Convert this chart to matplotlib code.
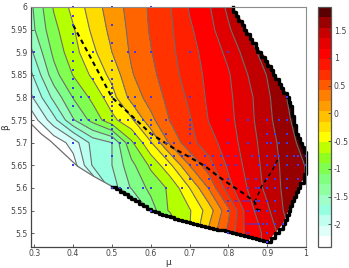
import numpy as np
import matplotlib
matplotlib.use('Agg')
import matplotlib.pyplot as plt
from matplotlib.colors import ListedColormap, Normalize
from matplotlib.cm import ScalarMappable
from matplotlib.patches import Polygon

# grid of values
mu = [0.29, 0.35, 0.40, 0.45, 0.50, 0.55, 0.60, 0.65, 0.70, 0.75, 0.80, 0.85, 0.90, 0.95, 1.00]
beta = [6.00, 5.95, 5.90, 5.85, 5.80, 5.75, 5.70, 5.65, 5.60, 5.55, 5.50, 5.45]
z = [
    [-0.95, -0.48, -0.24, 0.00, 0.20, 0.37, 0.53, 0.69, 0.92, 1.08, 1.35, 1.52, 1.72, 1.90, 2.10],
    [-0.98, -0.56, -0.32, -0.06, 0.16, 0.35, 0.52, 0.67, 0.87, 1.03, 1.27, 1.51, 1.75, 2.00, 2.20],
    [-1.15, -0.65, -0.37, -0.15, 0.10, 0.33, 0.49, 0.65, 0.83, 0.98, 1.15, 1.40, 1.61, 1.85, 2.10],
    [-1.35, -0.78, -0.49, -0.26, -0.04, 0.28, 0.45, 0.61, 0.80, 0.95, 1.08, 1.30, 1.51, 1.75, 2.00],
    [-1.55, -1.04, -0.69, -0.45, -0.18, 0.17, 0.39, 0.56, 0.74, 0.94, 1.06, 1.24, 1.46, 1.70, 1.90],
    [-1.85, -1.37, -0.92, -0.63, -0.36, -0.14, 0.24, 0.51, 0.68, 0.91, 1.04, 1.23, 1.44, 1.66, 1.85],
    [-2.20, -1.85, -1.61, -1.23, -1.10, -0.54, -0.12, 0.34, 0.63, 0.82, 1.00, 1.20, 1.40, 1.60, 1.80],
    [-2.50, -2.20, -1.80, -1.28, -1.10, -0.76, -0.46, -0.14, 0.30, 0.62, 0.94, 1.16, 1.38, 1.57, 1.71],
    [-2.90, -2.50, -2.20, -1.80, -1.20, -0.88, -0.64, -0.46, -0.10, 0.32, 0.83, 1.11, 1.36, 1.56, 1.70],
    [-3.40, -3.20, -2.90, -2.50, -2.00, -1.50, -0.80, -0.46, -0.32, 0.00, 0.45, 1.02, 1.26, 1.55, 1.70],
    [-3.60, -3.50, -3.20, -3.00, -2.60, -2.20, -1.60, -0.90, -0.30, 0.15, 0.55, 0.98, 1.15, 1.45, 1.60],
    [-3.60, -3.50, -3.20, -3.00, -2.60, -2.20, -1.60, -0.90, -0.30, 0.15, 0.55, 0.98, 1.15, 1.45, 1.60],
]

levels = [-1.7, -1.5, -1.3, -1.1, -0.9, -0.7, -0.5, -0.3, -0.1, 0.1, 0.3, 0.5, 0.7, 0.9, 1.1, 1.3, 1.5, 1.7]
fill_colors = ['#ffffff', '#d8fffa', '#b8fff0', '#98ffe0', '#96ffc0', '#80ff88', '#80ff50', '#b4ff00',
               '#ffff00', '#ffdc00', '#ff9600', '#ff6400', '#ff3200', '#ff2000', '#ff0000', '#e00000',
               '#c00000', '#960000', '#5a0000']

# edge of the domain: thin grey part, then the jagged black part from the left end round to the top
edge_thin_mu = [0.29, 0.318, 0.341, 0.411, 0.452, 0.503]
edge_thin_beta = [5.743, 5.719, 5.704, 5.648, 5.626, 5.602]
edge_mu = [0.50, 0.51, 0.52, 0.53, 0.54, 0.55, 0.56, 0.57, 0.58, 0.59, 0.60, 0.61, 0.62, 0.63, 0.64, 0.65, 0.66,
           0.67, 0.68, 0.69, 0.70, 0.71, 0.72, 0.73, 0.74, 0.75, 0.76, 0.77, 0.78, 0.79, 0.80, 0.81, 0.82, 0.83,
           0.84, 0.85, 0.86, 0.87, 0.88, 0.89, 0.90, 0.91, 0.92, 0.93, 0.94, 0.945, 0.95, 0.955, 0.96, 0.965,
           0.97, 0.975, 0.98, 0.985, 0.995, 0.995, 1.0, 1.0, 1.0, 1.0, 1.0, 0.995, 0.99, 0.985, 0.98, 0.975,
           0.975, 0.97, 0.97, 0.965, 0.965, 0.96, 0.955, 0.95, 0.94, 0.935, 0.93, 0.92, 0.915, 0.91, 0.90,
           0.895, 0.885, 0.875, 0.87, 0.86, 0.855, 0.845, 0.84, 0.835, 0.825, 0.82, 0.812]
edge_beta = [5.602, 5.598, 5.592, 5.586, 5.58, 5.575, 5.57, 5.565, 5.56, 5.553, 5.548, 5.546, 5.543, 5.54, 5.538,
             5.535, 5.532, 5.528, 5.526, 5.524, 5.522, 5.52, 5.518, 5.516, 5.514, 5.512, 5.51, 5.508, 5.506,
             5.504, 5.502, 5.50, 5.498, 5.496, 5.494, 5.492, 5.49, 5.486, 5.484, 5.482, 5.48, 5.49, 5.50, 5.51,
             5.52, 5.53, 5.54, 5.55, 5.56, 5.57, 5.58, 5.59, 5.60, 5.61, 5.62, 5.63, 5.64, 5.65, 5.66, 5.67,
             5.68, 5.69, 5.70, 5.71, 5.72, 5.73, 5.74, 5.75, 5.76, 5.77, 5.78, 5.79, 5.80, 5.81, 5.82, 5.83,
             5.84, 5.85, 5.86, 5.87, 5.88, 5.89, 5.90, 5.91, 5.92, 5.93, 5.94, 5.95, 5.96, 5.97, 5.98, 5.99, 6.0]

# sample points, one list of mu per beta
dot_rows = [
    (6.00, [0.40, 0.50, 0.60]),
    (5.98, [0.40]),
    (5.96, [0.40, 0.50]),
    (5.94, [0.40]),
    (5.92, [0.40, 0.50]),
    (5.90, [0.30, 0.40, 0.45, 0.54, 0.56, 0.60, 0.70, 0.80]),
    (5.88, [0.40, 0.50]),
    (5.86, [0.40, 0.50]),
    (5.84, [0.40, 0.45, 0.50]),
    (5.83, [0.50]),
    (5.82, [0.40, 0.50]),
    (5.81, [0.50]),
    (5.80, [0.30, 0.40, 0.42, 0.44, 0.48, 0.50, 0.54, 0.56, 0.60, 0.70, 0.95]),
    (5.79, [0.50]),
    (5.78, [0.40, 0.50, 0.56]),
    (5.77, [0.50]),
    (5.76, [0.50]),
    (5.75, [0.40, 0.42, 0.44, 0.46, 0.48, 0.50, 0.52, 0.54, 0.56, 0.58, 0.60, 0.64, 0.70, 0.80, 0.85, 0.90, 0.93, 0.95]),
    (5.74, [0.50, 0.60, 0.70]),
    (5.73, [0.50, 0.70]),
    (5.72, [0.50, 0.56, 0.60, 0.64, 0.70, 0.90, 0.92, 0.95]),
    (5.71, [0.50, 0.60]),
    (5.70, [0.40, 0.50, 0.52, 0.54, 0.56, 0.58, 0.60, 0.62, 0.64, 0.66, 0.70, 0.80, 0.85, 0.90, 0.91, 0.93, 0.95]),
    (5.67, [0.50, 0.64, 0.66, 0.68, 0.70, 0.74, 0.76, 0.78, 0.80, 0.82, 0.86, 0.88, 0.90, 0.92, 0.93, 0.95, 0.97, 0.98, 1.00]),
    (5.65, [0.40, 0.60, 0.64, 0.70, 0.72, 0.74, 0.76, 0.78, 0.80, 0.82, 0.88, 0.90, 0.92, 0.95, 0.98, 1.00]),
    (5.62, [0.70, 0.75, 0.80, 0.85, 0.87, 0.90, 0.92, 0.95, 0.98]),
    (5.60, [0.50, 0.52, 0.54, 0.58, 0.60, 0.64, 0.68, 0.75, 0.80, 0.85, 0.87, 0.88, 0.90, 0.92, 0.95]),
    (5.57, [0.80, 0.82, 0.84, 0.85, 0.87, 0.88, 0.90, 0.92]),
    (5.55, [0.60, 0.80, 0.85, 0.87, 0.88, 0.90, 0.92]),
    (5.52, [0.85, 0.86, 0.87, 0.88, 0.89, 0.90, 0.92, 0.94]),
    (5.50, [0.80, 0.85, 0.90]),
    (5.48, [0.90]),
]

# dashed ridge with its branch
ridge_mu = [0.40, 0.50, 0.60, 0.662, 0.70, 0.74, 0.773, 0.81, 0.837, 0.868, 0.873, 0.886]
ridge_beta = [5.96, 5.80, 5.72, 5.686, 5.668, 5.648, 5.626, 5.604, 5.589, 5.569, 5.553, 5.549]
branch_mu = [0.868, 0.886, 0.912, 0.93]
branch_beta = [5.569, 5.604, 5.637, 5.668]

# colorbar bands, bottom to top
cbar_colors = ['#ffffff', '#e0fff8', '#c0fff0', '#96ffe0', '#a0ffc8', '#90ffa0', '#80ff80', '#80ff50',
               '#90ff20', '#c0ff00', '#ffff00', '#ffe000', '#ffc000', '#ff9c00', '#ff8000', '#ff5a00',
               '#ff3000', '#ff1500', '#ff0000', '#e60000', '#c80000', '#9a0000', '#5a0000']
cbar_min, cbar_max = -2.4, 1.915
cbar_ticks = [-2, -1.5, -1, -0.5, 0, 0.5, 1, 1.5]
cbar_labels = ['-2', '-1.5', '-1', '-0.5', '0', '0.5', '1', '1.5']

grey = '#6e6e6e'
W, H = 349, 268
fig = plt.figure(figsize=(W / 100, H / 100), dpi=100)
ax = fig.add_axes([30.5 / W, 1 - 246.7 / H, (306 - 30.5) / W, (246.7 - 7) / H])

region = Polygon(list(zip(edge_thin_mu + edge_mu, edge_thin_beta + edge_beta)) + [(0.29, 6.0)],
                 closed=True, transform=ax.transData, fc='none', ec='none')
ax.add_patch(region)

all_levels = [-9] + levels + [9]
cf = ax.contourf(mu, beta, z, levels=all_levels, colors=fill_colors)
cl = ax.contour(mu, beta, z, levels=levels, colors=grey, linewidths=0.8, negative_linestyles='solid')
cf.set_clip_path(region)
cl.set_clip_path(region)

ax.plot(edge_thin_mu, edge_thin_beta, color=grey, lw=0.9)
ax.plot(edge_mu, edge_beta, color='black', lw=2.4, drawstyle='steps-post', clip_on=False)
ax.plot(ridge_mu, ridge_beta, color='black', lw=1.5, dashes=(2.2, 1.8))
ax.plot(branch_mu, branch_beta, color='black', lw=1.1, dashes=(2.6, 2.2))
for b, mus in dot_rows:
    ax.plot(mus, [b] * len(mus), ls='none', marker='s', ms=1.5, mew=0, color='#3c3ce6', clip_on=False)

ax.set_xlim(0.29, 1.0)
ax.set_ylim(5.47, 6.0)
ax.set_xticks([0.3, 0.4, 0.5, 0.6, 0.7, 0.8, 0.9, 1.0])
ax.set_xticklabels(['0.3', '0.4', '0.5', '0.6', '0.7', '0.8', '0.9', '1'])
ax.set_yticks([5.5, 5.55, 5.6, 5.65, 5.7, 5.75, 5.8, 5.85, 5.9, 5.95, 6.0])
ax.set_yticklabels(['5.5', '5.55', '5.6', '5.65', '5.7', '5.75', '5.8', '5.85', '5.9', '5.95', '6'])
ax.tick_params(direction='in', length=2, width=0.6, labelsize=5.6, pad=2, colors='#444444')
ax.set_xlabel('\u03bc', fontsize=6.5, color='#333333', labelpad=0)
ax.set_ylabel('\u03b2', fontsize=6.5, color='#333333', labelpad=0)
for side in ['top', 'right']:
    ax.spines[side].set_color('#8c8c8c')
    ax.spines[side].set_linewidth(0.8)
for side in ['left', 'bottom']:
    ax.spines[side].set_color('#444444')
    ax.spines[side].set_linewidth(0.9)

cax = fig.add_axes([318 / W, 1 - 246.7 / H, 13 / W, (246.7 - 7) / H])
sm = ScalarMappable(norm=Normalize(cbar_min, cbar_max), cmap=ListedColormap(cbar_colors))
cb = fig.colorbar(sm, cax=cax)
cb.set_ticks(cbar_ticks)
cb.set_ticklabels(cbar_labels)
cb.ax.tick_params(direction='in', length=2, width=0.6, labelsize=5.6, pad=2, colors='#444444')
cb.outline.set_edgecolor('#555555')
cb.outline.set_linewidth(0.9)

fig.savefig('out.png', dpi=100)
